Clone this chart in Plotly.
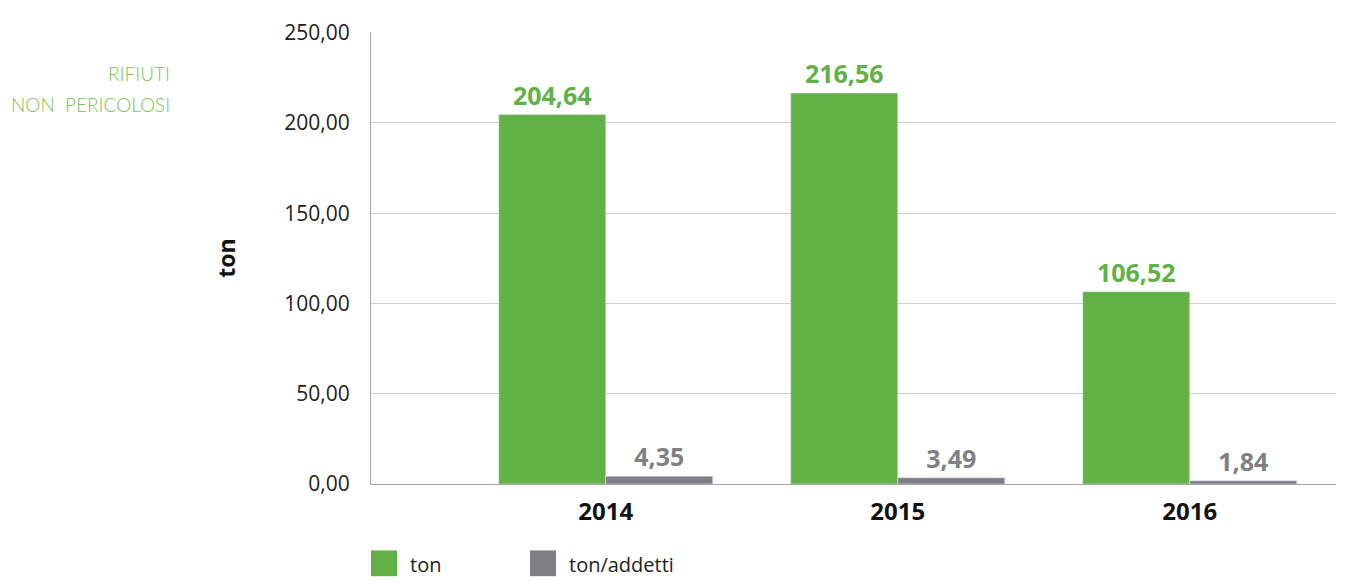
import plotly.graph_objects as go

years = ["2014", "2015", "2016"]
ton = [204.64, 216.56, 106.52]
ton_addetti = [4.35, 3.49, 1.84]
series_names = ["ton", "ton/addetti"]
y_ticks = [0, 50, 100, 150, 200, 250]
title_lines = ["RIFIUTI", "NON  PERICOLOSI"]

GREEN = "#62b146"
GRAY = "#808084"
x_pos = list(range(len(years)))

# page body has an 8px margin: figure is sized/placed to compensate
W, H = 1338, 574
L, R, T, B = 363, 10, 20, 98
PW, PH = W - L - R, H - T - B

fig = go.Figure()
fig.add_trace(go.Bar(
    x=x_pos, y=ton, name=series_names[0], marker_color=GREEN,
    texttemplate="%{y:.2f}", textposition="outside", cliponaxis=False,
    textfont=dict(family="Open Sans", size=25, color=GREEN, weight="bold"),
))
fig.add_trace(go.Bar(
    x=x_pos, y=ton_addetti, name=series_names[1], marker_color=GRAY,
    texttemplate="%{y:.2f}", textposition="outside", cliponaxis=False,
    textfont=dict(family="Open Sans", size=25, color=GRAY, weight="bold"),
))

fig.update_layout(
    width=W, height=H,
    margin=dict(l=L, r=R, t=T, b=B),
    paper_bgcolor="white", plot_bgcolor="white",
    barmode="group", bargap=0.267, bargroupgap=0,
    separators=",.",
    showlegend=False,
    font=dict(family="Open Sans", color="#222222"),
    xaxis=dict(
        range=[-0.804, 2.501], tickmode="array", tickvals=x_pos, ticktext=years,
        tickfont=dict(size=24, color="#111111", weight="bold"),
        showgrid=False, zeroline=False, showline=True, linecolor="#a6a6a6", linewidth=1,
        ticks="", ticklabelstandoff=6,
    ),
    yaxis=dict(
        range=[0, 250.4], tickvals=y_ticks, tickformat=".2f",
        tickfont=dict(size=21, color="#222222"),
        showgrid=True, gridcolor="#d0d0d0", gridwidth=1, zeroline=False,
        showline=True, linecolor="#a6a6a6", linewidth=1, ticks="",
        ticklabelstandoff=16,
        title=dict(text="ton", font=dict(size=23, color="#111111", weight="bold"), standoff=42),
    ),
)

# title text (two lines, right-aligned)
for i, line in enumerate(title_lines):
    fig.add_annotation(xref="paper", yref="paper", x=(164 - L) / PW, y=1 - (62 + 31 * i - T) / PH,
                       xanchor="right", yanchor="middle", showarrow=False, text=line,
                       font=dict(family="Lato", size=19, color="#7cc253", weight=300))

# legend drawn below the plot
legend_items = [(series_names[0], GREEN, 363), (series_names[1], GRAY, 522)]
for name, color, px in legend_items:
    x0 = (px - L) / PW
    fig.add_shape(type="rect", xref="paper", yref="paper",
                  x0=x0, x1=x0 + 26 / PW, y0=-(569 - 476) / PH, y1=-(543 - 476) / PH,
                  fillcolor=color, line=dict(width=0))
    fig.add_annotation(xref="paper", yref="paper", x=x0 + 37 / PW, y=-(557 - 476) / PH,
                       xanchor="left", yanchor="middle", showarrow=False, text=name,
                       font=dict(family="Open Sans", size=20, color="#222222"))

fig.write_html("out.html")
